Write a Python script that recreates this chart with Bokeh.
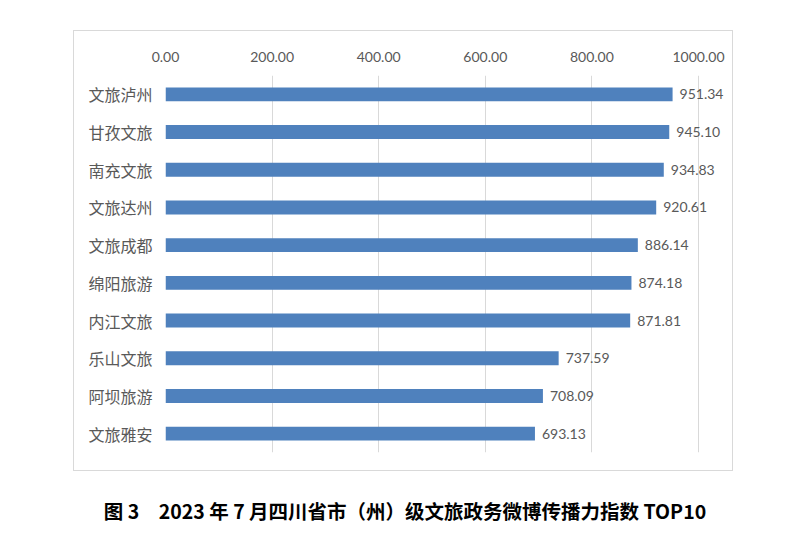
from bokeh.plotting import figure
from bokeh.embed import file_html
from bokeh.resources import INLINE
from bokeh.layouts import column
from bokeh.models import (ColumnDataSource, FactorRange, Range1d, FixedTicker,
                          NumeralTickFormatter, Div)
from bokeh.core.properties import value

categories = ["文旅泸州", "甘孜文旅", "南充文旅", "文旅达州", "文旅成都",
              "绵阳旅游", "内江文旅", "乐山文旅", "阿坝旅游", "文旅雅安"]
values = [951.34, 945.10, 934.83, 920.61, 886.14, 874.18, 871.81, 737.59, 708.09, 693.13]
x_ticks = [0, 200, 400, 600, 800, 1000]
title_text = "图 3　2023 年 7 月四川省市（州）级文旅政务微博传播力指数 TOP10"

src = ColumnDataSource(dict(cat=categories, val=values,
                            lab=["{:.2f}".format(v) for v in values]))

p = figure(width=658, height=439,
           y_range=FactorRange(factors=list(reversed(categories)), range_padding=0),
           x_range=Range1d(0, 1060), x_axis_location="above",
           output_backend="svg", toolbar_location=None,
           min_border_left=91, min_border_right=2, min_border_top=44, min_border_bottom=18)
p.margin = (31, 0, 0, 74)
p.styles = {"outline": "1px solid #D9D9D9"}
p.outline_line_color = None
p.background_fill_color = "white"

p.hbar(y="cat", right="val", left=0, height=0.37, source=src,
       fill_color="#4F81BD", line_color=None)
p.text(x="val", y="cat", text="lab", source=src, x_offset=7,
       text_align="left", text_baseline="middle", text_font_size="14px",
       text_color="#595959", text_font=value("Lato"))

xa = p.xaxis[0]
xa.ticker = FixedTicker(ticks=x_ticks)
xa.formatter = NumeralTickFormatter(format="0.00")
xa.axis_line_color = None
xa.major_tick_line_color = None
xa.minor_tick_line_color = None
xa.major_tick_out = 0
xa.major_label_standoff = 14
xa.major_label_text_font = "Lato"
xa.major_label_text_font_size = "14px"
xa.major_label_text_color = "#595959"

ya = p.yaxis[0]
ya.axis_line_color = None
ya.major_tick_line_color = None
ya.major_tick_out = 0
ya.major_label_standoff = 13
ya.major_label_text_font = "Noto Sans CJK SC"
ya.major_label_text_font_size = "16px"
ya.major_label_text_color = "#595959"

p.xgrid.ticker = FixedTicker(ticks=x_ticks)
p.xgrid.grid_line_color = "#D9D9D9"
p.ygrid.grid_line_color = None

title = Div(text=title_text, width=720, margin=(27, 0, 0, 45),
            styles={"text-align": "center", "font-weight": "bold",
                    "font-size": "19.5px", "font-family": "Noto Sans CJK SC",
                    "color": "#000000", "width": "720px"})

layout = column(p, title)
open("out.html", "w").write(file_html(layout, INLINE))
